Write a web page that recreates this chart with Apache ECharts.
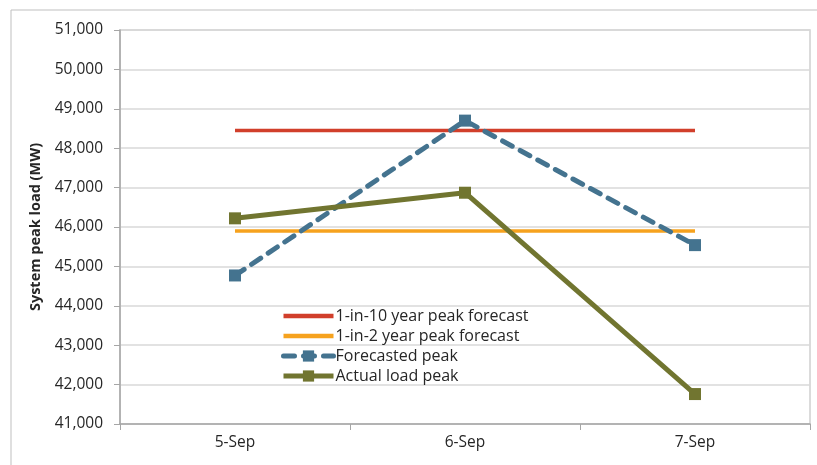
<!DOCTYPE html>
<html>
<head>
<meta charset="utf-8">
<script src="https://cdn.jsdelivr.net/npm/echarts@6/dist/echarts.min.js"></script>
<style>
  html, body { margin: 0; padding: 0; background: #ffffff; }
  #chart { width: 817px; height: 465px; }
</style>
</head>
<body>
<div id="chart"></div>
<script>
// Daily system peak load, 5–7 September
const categories = ['5-Sep', '6-Sep', '7-Sep'];
const oneInTenForecast = [48450, 48450, 48450];
const oneInTwoForecast = [45900, 45900, 45900];
const forecastedPeak = [44770, 48700, 45540];
const actualLoadPeak = [46220, 46870, 41760];

const FONT = '"Open Sans", Lato, sans-serif';
const RED = '#d13f2b', ORANGE = '#f6a21e', BLUE = '#44738f', OLIVE = '#717530';

const chart = echarts.init(document.getElementById('chart'), null, { renderer: 'canvas' });

chart.setOption({
  animation: false,
  backgroundColor: '#ffffff',
  graphic: [{
    type: 'rect',
    shape: { x: 11, y: 10, width: 830, height: 480 },
    style: { fill: 'none', stroke: '#bfbfbf', lineWidth: 1 },
    silent: true,
    z: -1
  }],
  grid: {
    left: 120, right: 7, top: 30, bottom: 41,
    show: true, borderColor: '#d0d0d0', borderWidth: 1.5
  },
  legend: {
    orient: 'vertical',
    left: 281, top: 306,
    itemWidth: 50, itemHeight: 14, itemGap: 0,
    padding: 0,
    textStyle: { fontFamily: FONT, fontSize: 16, lineHeight: 20, color: '#262626', padding: [0, 0, 0, -3] },
    data: [
      { name: '1-in-10 year peak forecast', itemStyle: { opacity: 0 }, lineStyle: { width: 4.5 } },
      { name: '1-in-2 year peak forecast', itemStyle: { opacity: 0 }, lineStyle: { width: 4.5 } },
      { name: 'Forecasted peak', lineStyle: { width: 5 } },
      { name: 'Actual load peak', lineStyle: { width: 5 } }
    ]
  },
  xAxis: {
    type: 'category',
    data: categories,
    boundaryGap: true,
    axisLine: { lineStyle: { color: '#a6a6a6', width: 1.5 } },
    axisTick: { show: true, length: 6, lineStyle: { color: '#a6a6a6' } },
    axisLabel: { fontFamily: FONT, fontSize: 15.5, color: '#262626', margin: 11 }
  },
  yAxis: {
    type: 'value',
    min: 41000, max: 51000, interval: 1000,
    name: 'System peak load (MW)',
    nameLocation: 'middle',
    nameGap: 77,
    nameTextStyle: { fontFamily: FONT, fontSize: 14.5, fontWeight: 'bold', color: '#262626' },
    axisLine: { show: true, lineStyle: { color: '#a6a6a6', width: 1.5 } },
    axisTick: { show: true, length: 6, lineStyle: { color: '#a6a6a6' } },
    splitLine: { lineStyle: { color: '#d9d9d9', width: 1.5 } },
    axisLabel: {
      fontFamily: FONT, fontSize: 15.5, color: '#262626', margin: 17,
      formatter: v => v.toLocaleString('en-US')
    }
  },
  series: [
    {
      name: '1-in-10 year peak forecast',
      type: 'line',
      data: oneInTenForecast,
      symbol: 'none',
      color: RED,
      lineStyle: { color: RED, width: 3.5 },
      z: 2
    },
    {
      name: '1-in-2 year peak forecast',
      type: 'line',
      data: oneInTwoForecast,
      symbol: 'none',
      color: ORANGE,
      lineStyle: { color: ORANGE, width: 3.5 },
      z: 2
    },
    {
      name: 'Forecasted peak',
      type: 'line',
      data: forecastedPeak,
      symbol: 'rect',
      symbolSize: 12,
      color: BLUE,
      itemStyle: { color: BLUE },
      lineStyle: { color: BLUE, width: 5, type: [11, 9], cap: 'round' },
      z: 3
    },
    {
      name: 'Actual load peak',
      type: 'line',
      data: actualLoadPeak,
      symbol: 'rect',
      symbolSize: 12,
      color: OLIVE,
      itemStyle: { color: OLIVE },
      lineStyle: { color: OLIVE, width: 5 },
      z: 4
    }
  ]
});
</script>
</body>
</html>
